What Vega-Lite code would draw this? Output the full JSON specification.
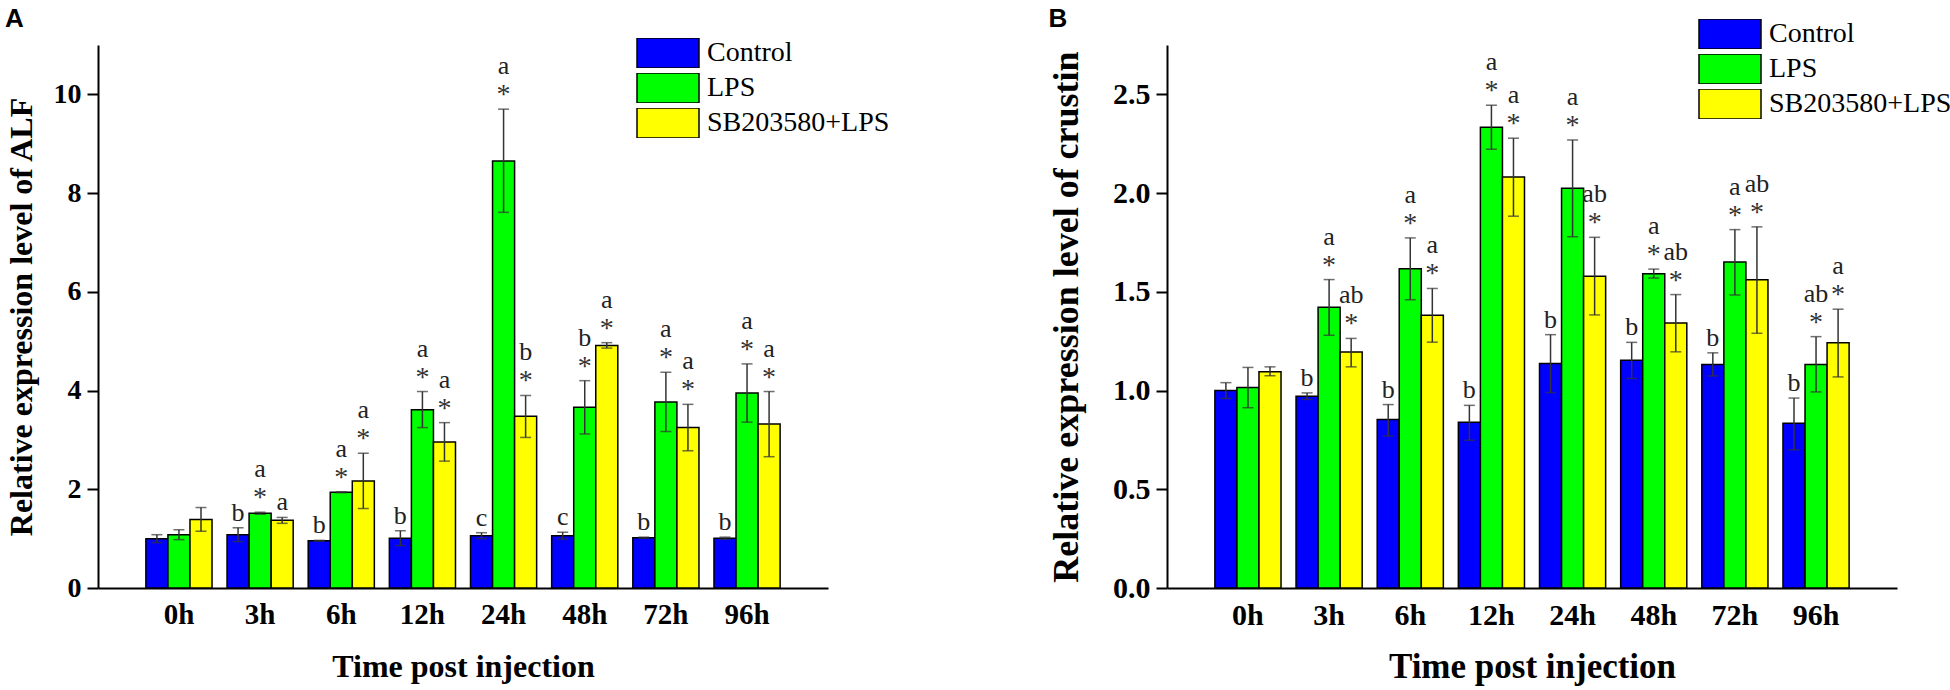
{
  "$schema": "https://vega.github.io/schema/vega-lite/v6.json",
  "background": "white",
  "padding": {"left": 5, "top": 6, "right": 5, "bottom": 5},
  "datasets": {
    "alf": [
      {"time": "0h", "group": "Control", "value": 1.00, "lo": 0.92, "hi": 1.08, "letter": "", "star": ""},
      {"time": "0h", "group": "LPS", "value": 1.08, "lo": 0.98, "hi": 1.18, "letter": "", "star": ""},
      {"time": "0h", "group": "SB203580+LPS", "value": 1.39, "lo": 1.15, "hi": 1.63, "letter": "", "star": ""},
      {"time": "3h", "group": "Control", "value": 1.08, "lo": 0.94, "hi": 1.22, "letter": "b", "star": ""},
      {"time": "3h", "group": "LPS", "value": 1.515, "lo": 1.495, "hi": 1.535, "letter": "a", "star": "*"},
      {"time": "3h", "group": "SB203580+LPS", "value": 1.37, "lo": 1.31, "hi": 1.43, "letter": "a", "star": ""},
      {"time": "6h", "group": "Control", "value": 0.956, "lo": 0.95, "hi": 0.965, "letter": "b", "star": ""},
      {"time": "6h", "group": "LPS", "value": 1.94, "lo": 1.93, "hi": 1.95, "letter": "a", "star": "*"},
      {"time": "6h", "group": "SB203580+LPS", "value": 2.17, "lo": 1.61, "hi": 2.73, "letter": "a", "star": "*"},
      {"time": "12h", "group": "Control", "value": 1.01, "lo": 0.86, "hi": 1.16, "letter": "b", "star": ""},
      {"time": "12h", "group": "LPS", "value": 3.61, "lo": 3.25, "hi": 3.98, "letter": "a", "star": "*"},
      {"time": "12h", "group": "SB203580+LPS", "value": 2.96, "lo": 2.57, "hi": 3.35, "letter": "a", "star": "*"},
      {"time": "24h", "group": "Control", "value": 1.06, "lo": 1.0, "hi": 1.12, "letter": "c", "star": ""},
      {"time": "24h", "group": "LPS", "value": 8.65, "lo": 7.61, "hi": 9.7, "letter": "a", "star": "*"},
      {"time": "24h", "group": "SB203580+LPS", "value": 3.48, "lo": 3.05, "hi": 3.9, "letter": "b", "star": "*"},
      {"time": "48h", "group": "Control", "value": 1.06, "lo": 0.99, "hi": 1.13, "letter": "c", "star": ""},
      {"time": "48h", "group": "LPS", "value": 3.66, "lo": 3.12, "hi": 4.2, "letter": "b", "star": "*"},
      {"time": "48h", "group": "SB203580+LPS", "value": 4.91, "lo": 4.86, "hi": 4.97, "letter": "a", "star": "*"},
      {"time": "72h", "group": "Control", "value": 1.02, "lo": 1.01, "hi": 1.03, "letter": "b", "star": ""},
      {"time": "72h", "group": "LPS", "value": 3.77, "lo": 3.17, "hi": 4.37, "letter": "a", "star": "*"},
      {"time": "72h", "group": "SB203580+LPS", "value": 3.25, "lo": 2.78, "hi": 3.72, "letter": "a", "star": "*"},
      {"time": "96h", "group": "Control", "value": 1.01, "lo": 0.99, "hi": 1.03, "letter": "b", "star": ""},
      {"time": "96h", "group": "LPS", "value": 3.95, "lo": 3.36, "hi": 4.54, "letter": "a", "star": "*"},
      {"time": "96h", "group": "SB203580+LPS", "value": 3.32, "lo": 2.66, "hi": 3.98, "letter": "a", "star": "*"}
    ],
    "crustin": [
      {"time": "0h", "group": "Control", "value": 1.0, "lo": 0.96, "hi": 1.04, "letter": "", "star": ""},
      {"time": "0h", "group": "LPS", "value": 1.015, "lo": 0.913, "hi": 1.117, "letter": "", "star": ""},
      {"time": "0h", "group": "SB203580+LPS", "value": 1.095, "lo": 1.075, "hi": 1.12, "letter": "", "star": ""},
      {"time": "3h", "group": "Control", "value": 0.971, "lo": 0.955, "hi": 0.988, "letter": "b", "star": ""},
      {"time": "3h", "group": "LPS", "value": 1.422, "lo": 1.28, "hi": 1.562, "letter": "a", "star": "*"},
      {"time": "3h", "group": "SB203580+LPS", "value": 1.195, "lo": 1.12, "hi": 1.264, "letter": "ab", "star": "*"},
      {"time": "6h", "group": "Control", "value": 0.853, "lo": 0.77, "hi": 0.929, "letter": "b", "star": ""},
      {"time": "6h", "group": "LPS", "value": 1.617, "lo": 1.46, "hi": 1.773, "letter": "a", "star": "*"},
      {"time": "6h", "group": "SB203580+LPS", "value": 1.381, "lo": 1.245, "hi": 1.517, "letter": "a", "star": "*"},
      {"time": "12h", "group": "Control", "value": 0.839, "lo": 0.748, "hi": 0.925, "letter": "b", "star": ""},
      {"time": "12h", "group": "LPS", "value": 2.333, "lo": 2.222, "hi": 2.445, "letter": "a", "star": "*"},
      {"time": "12h", "group": "SB203580+LPS", "value": 2.081, "lo": 1.883, "hi": 2.278, "letter": "a", "star": "*"},
      {"time": "24h", "group": "Control", "value": 1.137, "lo": 0.99, "hi": 1.283, "letter": "b", "star": ""},
      {"time": "24h", "group": "LPS", "value": 2.025, "lo": 1.779, "hi": 2.269, "letter": "a", "star": "*"},
      {"time": "24h", "group": "SB203580+LPS", "value": 1.579, "lo": 1.383, "hi": 1.776, "letter": "ab", "star": "*"},
      {"time": "48h", "group": "Control", "value": 1.154, "lo": 1.061, "hi": 1.244, "letter": "b", "star": ""},
      {"time": "48h", "group": "LPS", "value": 1.591, "lo": 1.57, "hi": 1.615, "letter": "a", "star": "*"},
      {"time": "48h", "group": "SB203580+LPS", "value": 1.342, "lo": 1.196, "hi": 1.486, "letter": "ab", "star": "*"},
      {"time": "72h", "group": "Control", "value": 1.132, "lo": 1.074, "hi": 1.191, "letter": "b", "star": ""},
      {"time": "72h", "group": "LPS", "value": 1.651, "lo": 1.484, "hi": 1.815, "letter": "a", "star": "*"},
      {"time": "72h", "group": "SB203580+LPS", "value": 1.561, "lo": 1.29, "hi": 1.829, "letter": "ab", "star": "*"},
      {"time": "96h", "group": "Control", "value": 0.835, "lo": 0.70, "hi": 0.962, "letter": "b", "star": ""},
      {"time": "96h", "group": "LPS", "value": 1.132, "lo": 0.993, "hi": 1.273, "letter": "ab", "star": "*"},
      {"time": "96h", "group": "SB203580+LPS", "value": 1.242, "lo": 1.069, "hi": 1.412, "letter": "a", "star": "*"}
    ]
  },
  "config": {
    "view": {"stroke": null},
    "axis": {
      "labelFont": "Liberation Serif", "titleFont": "Liberation Serif",
      "labelFontWeight": "bold", "titleFontWeight": "bold",
      "labelColor": "black", "titleColor": "black",
      "domainColor": "black", "domainWidth": 2,
      "tickColor": "black", "tickWidth": 2, "grid": false
    },
    "legend": {
      "orient": "none", "title": null,
      "symbolType": "M-1,-0.4839H1V0.4839H-1Z", "symbolSize": 3844,
      "clipHeight": 30, "rowPadding": 5,
      "labelFont": "Liberation Serif", "labelFontSize": 28, "labelColor": "black",
      "labelOffset": 7, "labelLimit": 400,
      "symbolStrokeColor": "black", "symbolStrokeWidth": 1.5, "symbolOpacity": 1
    },
    "title": {"font": "Liberation Sans", "fontWeight": "bold", "fontSize": 26, "color": "black", "anchor": "start", "frame": "bounds"}
  },
  "bounds": "flush",
  "spacing": 339,
  "resolve": {"legend": {"fill": "independent"}},
  "hconcat": [
    {
      "title": {"text": "A", "offset": 6},
      "width": 730, "height": 543,
      "data": {"name": "alf"},
      "encoding": {
        "x": {"field": "time", "type": "nominal", "sort": ["0h","3h","6h","12h","24h","48h","72h","96h"],
              "scale": {"paddingInner": 0.185, "paddingOuter": 0.59},
              "axis": {"title": "Time post injection", "labelAngle": 0, "ticks": false, "tickSize": 0, "labelFontSize": 29, "labelPadding": 12, "titleFontSize": 32, "titlePadding": 22}},
        "xOffset": {"field": "group", "type": "nominal", "sort": ["Control","LPS","SB203580+LPS"], "scale": {"paddingInner": 0, "paddingOuter": 0}}
      },
      "layer": [
        {
          "mark": {"type": "bar", "stroke": "black", "strokeWidth": 1.5},
          "encoding": {
            "y": {"field": "value", "type": "quantitative", "title": "Relative expression level of ALF",
                  "scale": {"domain": [0, 11], "nice": false},
                  "axis": {"values": [0,2,4,6,8,10], "tickSize": 11, "labelPadding": 6, "labelFontSize": 28, "titleFontSize": 32, "titlePadding": 15}},
            "fill": {"field": "group", "type": "nominal", "sort": ["Control","LPS","SB203580+LPS"],
                     "scale": {"domain": ["Control","LPS","SB203580+LPS"], "range": ["#0000FF","#00FF00","#FFFF00"]},
                     "legend": {"legendX": 538, "legendY": -7}}
          }
        },
        {
          "mark": {"type": "rule", "color": "#333333", "strokeWidth": 1.5},
          "encoding": {"y": {"field": "lo", "type": "quantitative", "title": "Relative expression level of ALF"}, "y2": {"field": "hi"}}
        },
        {
          "mark": {"type": "tick", "color": "#333333", "thickness": 1.5, "size": 11},
          "encoding": {"y": {"field": "hi", "type": "quantitative", "title": "Relative expression level of ALF"}}
        },
        {
          "mark": {"type": "tick", "color": "#333333", "thickness": 1.5, "size": 11},
          "encoding": {"y": {"field": "lo", "type": "quantitative", "title": "Relative expression level of ALF"}}
        },
        {
          "transform": [{"filter": "datum.star == '*'"}],
          "mark": {"type": "text", "font": "Liberation Serif", "fontSize": 28, "baseline": "alphabetic", "dy": -6, "color": "#333333"},
          "encoding": {"y": {"field": "hi", "type": "quantitative", "title": "Relative expression level of ALF"}, "text": {"field": "star"}}
        },
        {
          "transform": [{"filter": "datum.star == '*'"}],
          "mark": {"type": "text", "font": "Liberation Serif", "fontSize": 26, "baseline": "alphabetic", "dy": -35, "color": "#222222"},
          "encoding": {"y": {"field": "hi", "type": "quantitative", "title": "Relative expression level of ALF"}, "text": {"field": "letter"}}
        },
        {
          "transform": [{"filter": "datum.star != '*' && datum.letter != ''"}],
          "mark": {"type": "text", "font": "Liberation Serif", "fontSize": 26, "baseline": "alphabetic", "dy": -7, "color": "#222222"},
          "encoding": {"y": {"field": "hi", "type": "quantitative", "title": "Relative expression level of ALF"}, "text": {"field": "letter"}}
        }
      ]
    },
    {
      "title": {"text": "B", "offset": -13},
      "width": 730, "height": 543,
      "data": {"name": "crustin"},
      "encoding": {
        "x": {"field": "time", "type": "nominal", "sort": ["0h","3h","6h","12h","24h","48h","72h","96h"],
              "scale": {"paddingInner": 0.185, "paddingOuter": 0.59},
              "axis": {"title": "Time post injection", "labelAngle": 0, "ticks": false, "tickSize": 0, "labelFontSize": 30, "labelPadding": 12, "titleFontSize": 35, "titlePadding": 19}},
        "xOffset": {"field": "group", "type": "nominal", "sort": ["Control","LPS","SB203580+LPS"], "scale": {"paddingInner": 0, "paddingOuter": 0}}
      },
      "layer": [
        {
          "mark": {"type": "bar", "stroke": "black", "strokeWidth": 1.5},
          "encoding": {
            "y": {"field": "value", "type": "quantitative", "title": "Relative expression level of crustin",
                  "scale": {"domain": [0, 2.75], "nice": false},
                  "axis": {"values": [0,0.5,1,1.5,2,2.5], "format": ".1f", "tickSize": 11, "labelPadding": 6, "labelFontSize": 30, "titleFontSize": 36, "titlePadding": 27}},
            "fill": {"field": "group", "type": "nominal", "sort": ["Control","LPS","SB203580+LPS"],
                     "scale": {"domain": ["Control","LPS","SB203580+LPS"], "range": ["#0000FF","#00FF00","#FFFF00"]},
                     "legend": {"legendX": 531, "legendY": -26}}
          }
        },
        {
          "mark": {"type": "rule", "color": "#333333", "strokeWidth": 1.5},
          "encoding": {"y": {"field": "lo", "type": "quantitative", "title": "Relative expression level of crustin"}, "y2": {"field": "hi"}}
        },
        {
          "mark": {"type": "tick", "color": "#333333", "thickness": 1.5, "size": 11},
          "encoding": {"y": {"field": "hi", "type": "quantitative", "title": "Relative expression level of crustin"}}
        },
        {
          "mark": {"type": "tick", "color": "#333333", "thickness": 1.5, "size": 11},
          "encoding": {"y": {"field": "lo", "type": "quantitative", "title": "Relative expression level of crustin"}}
        },
        {
          "transform": [{"filter": "datum.star == '*'"}],
          "mark": {"type": "text", "font": "Liberation Serif", "fontSize": 28, "baseline": "alphabetic", "dy": -6, "color": "#333333"},
          "encoding": {"y": {"field": "hi", "type": "quantitative", "title": "Relative expression level of crustin"}, "text": {"field": "star"}}
        },
        {
          "transform": [{"filter": "datum.star == '*'"}],
          "mark": {"type": "text", "font": "Liberation Serif", "fontSize": 26, "baseline": "alphabetic", "dy": -35, "color": "#222222"},
          "encoding": {"y": {"field": "hi", "type": "quantitative", "title": "Relative expression level of crustin"}, "text": {"field": "letter"}}
        },
        {
          "transform": [{"filter": "datum.star != '*' && datum.letter != ''"}],
          "mark": {"type": "text", "font": "Liberation Serif", "fontSize": 26, "baseline": "alphabetic", "dy": -7, "color": "#222222"},
          "encoding": {"y": {"field": "hi", "type": "quantitative", "title": "Relative expression level of crustin"}, "text": {"field": "letter"}}
        }
      ]
    }
  ]
}
